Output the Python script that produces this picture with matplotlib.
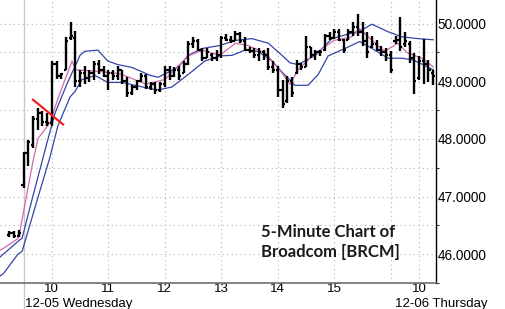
import matplotlib
matplotlib.use('Agg')
import matplotlib.pyplot as plt
import matplotlib.transforms as mtransforms

# bar index: 0 = 12-05 09:30, 78 = 12-06 09:30 (5-minute bars); negatives = 12-04 close
bar_index = list(range(-3, 88))
opens = [46.33, 46.36, 46.32,
         47.20, 47.75, 47.90, 48.35, 48.45, 48.30, 48.28, 49.30, 49.10, 49.20,
         49.75, 49.75, 49.00, 49.15, 49.05, 49.15, 49.30, 49.20, 49.10, 49.15,
         49.10, 49.20, 49.00, 48.80, 48.90, 49.00, 49.10, 48.90, 48.95, 48.85,
         48.95, 49.20, 49.10, 49.20, 49.15, 49.30, 49.65, 49.70, 49.55, 49.40,
         49.45, 49.40, 49.45, 49.75, 49.72, 49.70, 49.82, 49.70, 49.55, 49.52,
         49.45, 49.50, 49.45, 49.25, 49.20, 48.85, 48.65, 49.00, 49.15, 49.30,
         49.25, 49.60, 49.45, 49.50, 49.55, 49.78, 49.75, 49.85, 49.72, 49.72,
         49.85, 49.95, 49.85, 49.70, 49.60, 49.65, 49.55, 49.50,
         49.45, 49.70, 49.72, 49.65, 49.65, 49.40, 49.05, 49.35, 49.30, 49.15]
highs = [46.40, 46.40, 46.42,
         47.78, 47.98, 48.40, 48.53, 48.48, 48.45, 49.35, 49.35, 49.15, 49.77,
         50.02, 49.87, 49.19, 49.27, 49.20, 49.35, 49.37, 49.27, 49.19, 49.20,
         49.27, 49.20, 49.07, 48.93, 49.03, 49.15, 49.12, 48.98, 48.98, 48.98,
         49.27, 49.27, 49.24, 49.27, 49.35, 49.70, 49.77, 49.74, 49.57, 49.57,
         49.49, 49.54, 49.79, 49.82, 49.79, 49.87, 49.86, 49.77, 49.60, 49.57,
         49.57, 49.54, 49.57, 49.35, 49.27, 49.03, 49.10, 49.07, 49.37, 49.32,
         49.79, 49.60, 49.54, 49.54, 49.82, 49.86, 49.91, 49.91, 49.74, 49.91,
         50.02, 50.16, 50.02, 49.86, 49.79, 49.71, 49.62, 49.57,
         49.52, 49.79, 50.12, 49.86, 49.69, 49.49, 49.44, 49.74, 49.37, 49.19]
lows = [46.30, 46.28, 46.30,
        47.14, 47.53, 47.85, 48.15, 48.23, 48.23, 48.23, 49.04, 49.04, 49.19,
        49.71, 48.90, 48.90, 48.95, 48.98, 49.03, 49.12, 49.07, 48.85, 49.03,
        49.03, 48.95, 48.73, 48.77, 48.85, 48.98, 48.87, 48.85, 48.78, 48.82,
        48.90, 49.02, 49.07, 49.03, 49.15, 49.29, 49.57, 49.52, 49.35, 49.40,
        49.35, 49.35, 49.40, 49.69, 49.66, 49.69, 49.66, 49.52, 49.49, 49.40,
        49.35, 49.37, 49.20, 49.15, 48.73, 48.53, 48.62, 48.73, 49.12, 49.20,
        49.24, 49.40, 49.37, 49.44, 49.52, 49.71, 49.74, 49.69, 49.49, 49.71,
        49.79, 49.79, 49.62, 49.40, 49.57, 49.52, 49.44, 49.35,
        49.15, 49.65, 49.52, 49.60, 49.32, 48.78, 49.02, 48.95, 48.98, 48.93]
closes = [46.36, 46.32, 46.37,
          47.75, 47.95, 48.35, 48.45, 48.30, 48.28, 49.30, 49.10, 49.12, 49.70,
          49.78, 49.00, 49.15, 49.05, 49.15, 49.30, 49.20, 49.10, 49.15, 49.10,
          49.20, 49.00, 48.80, 48.90, 49.00, 49.10, 48.90, 48.95, 48.85, 48.95,
          49.20, 49.10, 49.20, 49.10, 49.30, 49.65, 49.70, 49.55, 49.40, 49.50,
          49.40, 49.45, 49.75, 49.72, 49.70, 49.82, 49.70, 49.55, 49.52, 49.45,
          49.50, 49.45, 49.25, 49.20, 48.85, 48.60, 49.00, 48.80, 49.30, 49.25,
          49.60, 49.45, 49.50, 49.50, 49.78, 49.75, 49.85, 49.72, 49.55, 49.85,
          49.95, 49.85, 49.70, 49.50, 49.65, 49.55, 49.50, 49.45,
          49.20, 49.72, 49.60, 49.70, 49.40, 49.00, 49.35, 49.30, 49.20, 49.10]

# indicator lines (bar index, price)
upper_idx = [-5, -4.3, -1.2, -0.3, 2, 5, 6.7, 9.2, 12, 13, 15.8, 17.9, 20, 23, 27, 28.6,
             32.8, 35, 38, 41.7, 45, 48.5, 52, 55, 56.6, 58.3, 62, 65.5, 69, 71.4, 74,
             77.4, 80.4, 83.8, 87]
upper_val = [45.95, 46.00, 46.22, 46.28, 47.01, 47.94, 48.45, 48.95, 49.45, 49.52, 49.54,
             49.35, 49.29, 49.24, 49.10, 49.07, 49.24, 49.45, 49.57, 49.62, 49.71, 49.74,
             49.66, 49.44, 49.32, 49.29, 49.45, 49.74, 49.82, 49.87, 49.99, 49.86, 49.77,
             49.74, 49.72]
lower_idx = [-5, -4.3, -1.2, -0.3, 2.9, 5.6, 7.3, 9.9, 10.9, 12.4, 15.2, 17.9, 20.9, 23.7,
             27, 28.6, 31.5, 35, 38.5, 41.7, 44.3, 47, 49.8, 52.8, 55, 56.6, 57.6, 60.4,
             62.6, 64.7, 68.3, 71.4, 74, 77.4, 80.4, 82.7, 84.8, 87]
lower_val = [45.62, 45.66, 46.00, 46.05, 46.94, 47.68, 48.23, 48.73, 48.82, 49.03, 49.10,
             48.98, 48.98, 48.93, 48.87, 48.85, 48.90, 49.12, 49.35, 49.44, 49.45, 49.54,
             49.52, 49.35, 49.15, 49.02, 48.93, 48.93, 49.12, 49.44, 49.57, 49.69, 49.57,
             49.40, 49.40, 49.37, 49.29, 49.20]
pink_idx = [-5, -4.3, -1.2, -0.7, 2, 3.1, 5.6, 7.3, 10.3, 11, 13, 16, 20.5, 26, 30, 35, 38,
            41.7, 45, 47.7, 51.3, 54, 56.6, 58.3, 62, 66, 69.7, 71.4, 74, 76.7, 79.5, 81.6,
            84.6, 87]
pink_val = [46.07, 46.10, 46.27, 46.43, 47.61, 48.01, 48.28, 48.70, 49.35, 49.20, 49.19,
            49.17, 49.13, 48.95, 49.03, 49.44, 49.54, 49.45, 49.66, 49.62, 49.49, 49.24,
            48.95, 49.20, 49.49, 49.71, 49.77, 49.91, 49.71, 49.52, 49.66, 49.49, 49.40,
            49.25]
trend_idx = [2.0, 8.4]
trend_val = [48.68, 48.25]

hour_ticks = [6, 18, 30, 42, 54, 66, 84]
hour_labels = ['10', '11', '12', '13', '14', '15', '10']
extra_grid = [78]
day_starts = [0, 78]
day_labels = ['12-05 Wednesday', '12-06 Thursday']
price_ticks = [46, 47, 48, 49, 50]
price_minor = [45.5, 46.5, 47.5, 48.5, 49.5]

plt.rcParams['font.family'] = ['Liberation Sans', 'DejaVu Sans']
fig = plt.figure(figsize=(5.05, 3.09), dpi=100)
ax = fig.add_axes([0, 26 / 309, 436 / 505, 283 / 309])
ax.set_xlim(-5.0, 87.6)
ax.set_ylim(45.66, 50.41)

grid_kw = dict(color='#b4b4b4', lw=0.8, ls=(0, (1, 3)), zorder=0)
for p in price_ticks + price_minor:
    ax.axhline(p, **grid_kw)
for t in hour_ticks + extra_grid:
    ax.axvline(t, **grid_kw)
ax.plot([day_starts[0], day_starts[0]], [-0.09, 1],
        transform=mtransforms.blended_transform_factory(ax.transData, ax.transAxes),
        color='#c8c8c8', lw=1.0, clip_on=False, zorder=0)

ax.plot(upper_idx, upper_val, color='#3444a8', lw=0.9, zorder=2)
ax.plot(lower_idx, lower_val, color='#3444a8', lw=0.9, zorder=2)
ax.plot(pink_idx, pink_val, color='#d46aae', lw=0.9, zorder=2)

w = 0.45
for i, o, h, l, c in zip(bar_index, opens, highs, lows, closes):
    ax.plot([i, i], [l, h], color='black', lw=1.7, solid_capstyle='butt', zorder=3)
    ax.plot([i - w, i], [o, o], color='black', lw=1.6, solid_capstyle='butt', zorder=3)
    ax.plot([i, i + w], [c, c], color='black', lw=1.6, solid_capstyle='butt', zorder=3)

ax.plot(trend_idx, trend_val, color='#ee2222', lw=1.6, zorder=4)

for s in ['left', 'top']:
    ax.spines[s].set_visible(False)
ax.spines['right'].set_color('black')
ax.spines['right'].set_linewidth(1.0)
ax.spines['bottom'].set_color('#707070')
ax.spines['bottom'].set_linewidth(1.2)

ax.yaxis.tick_right()
ax.set_yticks(price_ticks)
ax.set_yticklabels(['%.4f' % p for p in price_ticks])
ax.set_yticks(price_minor, minor=True)
ax.tick_params(axis='y', which='major', length=0, pad=1.2, labelsize=9.8, colors='black')
ax.tick_params(axis='y', which='minor', length=2, direction='out', color='black')
ax.set_xticks(hour_ticks)
ax.set_xticklabels(hour_labels)
ax.tick_params(axis='x', length=0, pad=0.3, labelsize=9.5)

tr = mtransforms.blended_transform_factory(ax.transData, ax.transAxes)
for d, lab, off in zip(day_starts, day_labels, [0.3, 0.9]):
    ax.text(d + off, -0.073, lab, transform=tr, ha='left', va='center', fontsize=9.5,
            clip_on=False)

fig.text(261 / 505, (309 - 237) / 309, '5-Minute Chart of', fontsize=12, fontweight='bold',
         family='Lato', color='#1a1a1a', va='baseline', ha='left')
fig.text(261 / 505, (309 - 257) / 309, 'Broadcom [BRCM]', fontsize=12, fontweight='bold',
         family='Lato', color='#1a1a1a', va='baseline', ha='left')

fig.savefig('out.png', dpi=100)
